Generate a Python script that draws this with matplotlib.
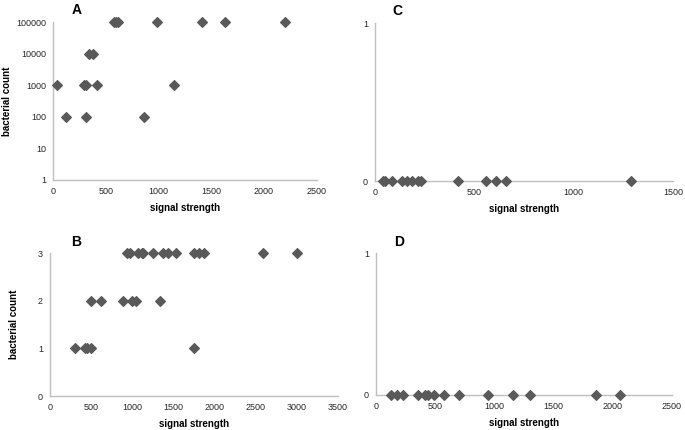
import matplotlib
matplotlib.use("Agg")
import matplotlib.pyplot as plt
from matplotlib.ticker import FixedLocator, FixedFormatter

plt.rcParams['font.family'] = ['Liberation Sans', 'DejaVu Sans']

# panel A: log scale bacterial count
a_x = [580, 600, 620, 990, 1410, 1630, 2200,
       345, 375,
       40, 295, 310, 420, 1150,
       127, 316, 860]
a_y = [100000, 100000, 100000, 100000, 100000, 100000, 100000,
       10000, 10000,
       1000, 1000, 1000, 1000, 1000,
       100, 100, 100]

# panel B
b_x = [932, 973, 1074, 1115, 1135, 1249, 1378, 1439, 1532, 1755, 1816, 1877, 2590, 3000,
       499, 620, 892, 1001, 1046, 1334,
       300, 426, 454, 495, 1755]
b_y = [3] * 14 + [2] * 6 + [1] * 5

# panel C
c_x = [42, 50, 87, 136, 163, 188, 218, 230, 419, 558, 608, 662, 1290]
c_y = [0] * len(c_x)

# panel D
d_x = [126, 177, 225, 351, 416, 441, 492, 576, 697, 944, 1154, 1300, 1857, 2062]
d_y = [0] * len(d_x)

mcol = '#595959'
spcol = '#bfbfbf'

fig = plt.figure(figsize=(6.85, 4.30), dpi=100)

def style(ax, letter, lx):
    for s in ['top', 'right']:
        ax.spines[s].set_visible(False)
    for s in ['left', 'bottom']:
        ax.spines[s].set_color(spcol)
        ax.spines[s].set_linewidth(1.0)
    ax.tick_params(length=0, labelsize=6.5, colors='#262626', pad=5)
    ax.set_xlabel('signal strength', fontsize=7, fontweight='bold', labelpad=5)
    ax.text(lx, 1.03, letter, transform=ax.transAxes, fontsize=10,
            fontweight='bold', ha='left', va='bottom')

axA = fig.add_axes([0.0774, 0.5814, 0.385, 0.367])
axA.scatter(a_x, a_y, marker='D', s=24, color=mcol, clip_on=False, zorder=3)
axA.set_yscale('log')
axA.set_ylim(1, 100000)
axA.set_xlim(0, 2500)
axA.set_xticks(range(0, 2501, 500))
yt = [1, 10, 100, 1000, 10000, 100000]
axA.yaxis.set_major_locator(FixedLocator(yt))
axA.yaxis.set_major_formatter(FixedFormatter([str(v) for v in yt]))
axA.yaxis.set_minor_locator(FixedLocator([]))
axA.set_ylabel('bacterial count', fontsize=7, fontweight='bold', labelpad=3)
style(axA, 'A', 0.072)

axC = fig.add_axes([0.5474, 0.579, 0.435, 0.3675])
axC.scatter(c_x, c_y, marker='D', s=24, color=mcol, clip_on=False, zorder=3)
axC.set_ylim(0, 1)
axC.set_xlim(0, 1500)
axC.set_xticks(range(0, 1501, 500))
axC.set_yticks([0, 1])
style(axC, 'C', 0.06)

axB = fig.add_axes([0.073, 0.079, 0.4204, 0.3326])
axB.scatter(b_x, b_y, marker='D', s=24, color=mcol, clip_on=False, zorder=3)
axB.set_ylim(0, 3)
axB.set_xlim(0, 3500)
axB.set_xticks(range(0, 3501, 500))
axB.set_yticks([0, 1, 2, 3])
axB.set_ylabel('bacterial count', fontsize=7, fontweight='bold', labelpad=14)
style(axB, 'B', 0.075)

axD = fig.add_axes([0.549, 0.0814, 0.432, 0.3302])
axD.scatter(d_x, d_y, marker='D', s=24, color=mcol, clip_on=False, zorder=3)
axD.set_ylim(0, 1)
axD.set_xlim(0, 2500)
axD.set_xticks(range(0, 2501, 500))
axD.set_yticks([0, 1])
style(axD, 'D', 0.06)

fig.savefig('out.png', dpi=100)
